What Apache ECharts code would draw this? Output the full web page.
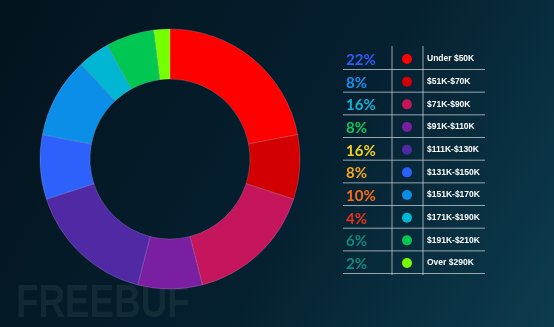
<!DOCTYPE html>
<html><head><meta charset="utf-8">
<script src="https://cdn.jsdelivr.net/npm/echarts@6/dist/echarts.min.js"></script>
<style>html,body{margin:0;padding:0;background:#04151f}#c{width:554px;height:327px}</style>
</head><body><div id="c"></div>
<script>
const categories = ['Under $50K','$51K-$70K','$71K-$90K','$91K-$110K','$111K-$130K','$131K-$150K','$151K-$170K','$171K-$190K','$191K-$210K','Over $290K'];
const values = [22, 8, 16, 8, 16, 8, 10, 4, 6, 2];
const sliceColors = ['#ff0000','#d20000','#c5155d','#7b1fa2','#5029a5','#2c62fb','#0a8ee8','#00b6d2','#00c652','#76ff03'];
const pctColors = ['#2f5cf5','#1a8ff0','#10b4d8','#16c45a','#f5d21a','#f7a51c','#fb6d12','#e8321e','#11897d','#15887c'];

const rowTop = 59, rowH = 22.67;
const graphics = [];
// background watermark
graphics.push({type:'text', x:16, y:281, scaleX:0.8, z:0, style:{text:'FREEBUF', fontSize:46, fontWeight:'bold', fontFamily:'Liberation Sans', fill:'rgba(38,66,72,0.4)'}});
// table lines
for (let k = 0; k < categories.length; k++) {
  const y = rowTop + 10.5 + k * rowH;
  graphics.push({type:'line', shape:{x1:343, y1:y, x2:485, y2:y}, style:{stroke:'rgba(200,210,215,0.75)', lineWidth:1}});
}
[392, 423].forEach(x => graphics.push({type:'line', shape:{x1:x, y1:46, x2:x, y2:275}, style:{stroke:'rgba(200,210,215,0.75)', lineWidth:1}}));
values.forEach((v, i) => {
  graphics.push({type:'text', x:346, y:rowTop + i * rowH + 1, style:{text:v + '%', fill:pctColors[i], fontSize:15, fontWeight:'bold', fontFamily:'Lato', verticalAlign:'middle'}});
});

const chart = echarts.init(document.getElementById('c'));
chart.setOption({
  backgroundColor: {type:'linear', x:0, y:0, x2:1, y2:1, colorStops:[{offset:0, color:'#03131d'},{offset:0.55, color:'#052030'},{offset:1, color:'#0c3c4e'}]},
  animation: false,
  color: sliceColors,
  legend: {
    orient:'vertical', left:402, top:53, padding:0, icon:'circle', itemWidth:10, itemHeight:10, itemGap:10.67,
    data: categories,
    itemStyle:{borderWidth:0},
    textStyle:{color:'#ffffff', fontSize:8.5, fontWeight:'bold', fontFamily:'Liberation Sans', lineHeight:12, padding:[0,0,0,10]},
    selectedMode:false
  },
  graphic: graphics,
  series: [{
    type:'pie', center:[170,159], radius:[80,130], startAngle:90, clockwise:true,
    label:{show:false}, labelLine:{show:false}, silent:true,
    itemStyle:{borderColor:'rgba(220,200,230,0.35)', borderWidth:0.6},
    data: categories.map((c, i) => ({name:c, value:values[i]}))
  }]
});
</script></body></html>
